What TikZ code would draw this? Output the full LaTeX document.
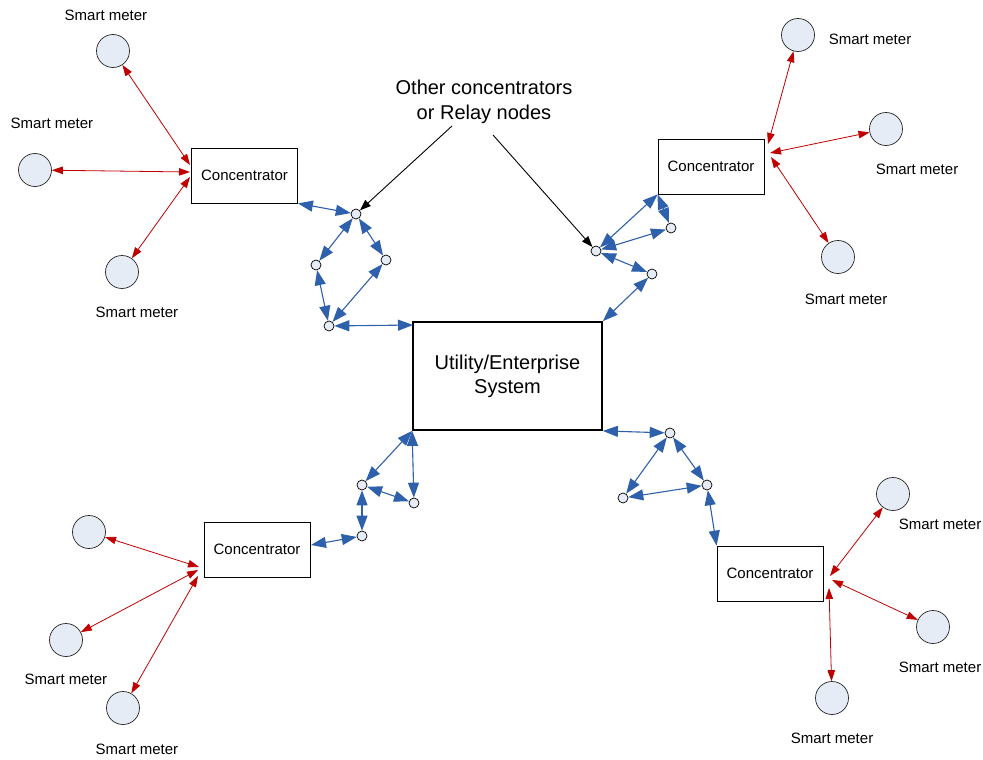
\documentclass[tikz,border=0pt]{standalone}
\usepackage{fontspec}
\setmainfont{Liberation Sans}
\usetikzlibrary{arrows.meta}
\definecolor{linkblue}{RGB}{46,96,172}
\definecolor{linkred}{RGB}{192,0,0}
\definecolor{meterfill}{RGB}{230,236,246}

\begin{document}
\begin{tikzpicture}[x=1pt,y=-1pt,
  conc/.style={draw=black,line width=0.8pt,minimum width=106pt,minimum height=55pt,inner sep=0pt,font=\fontsize{15}{18}\selectfont},
  core/.style={draw=black,line width=1.8pt,minimum width=189pt,minimum height=108pt,align=center,font=\fontsize{20}{24}\selectfont},
  meter/.style={circle,draw=black!85,line width=0.7pt,fill=meterfill,minimum size=33pt,inner sep=0pt},
  relay/.style={circle,draw=black,line width=0.7pt,fill=meterfill,minimum size=10pt,inner sep=0pt},
  lbl/.style={font=\fontsize{15}{18}\selectfont,inner sep=0pt},
  mesh/.style={linkblue,line width=1.1pt,{Triangle[length=15pt,width=11pt]}-{Triangle[length=15pt,width=11pt]}},
  radio/.style={linkred,line width=0.8pt,{Triangle[length=11pt,width=7.5pt]}-{Triangle[length=11pt,width=7.5pt]}},
  pointer/.style={black,line width=0.9pt,-{Triangle[length=11pt,width=8pt]}}
]
\useasboundingbox (0,0) rectangle (983,760);

% central system and concentrators
\node[core] (core) at (507.5,376) {Utility/Enterprise\\System};
\node[conc] (c1) at (244.5,175.5) {Concentrator};
\node[conc] (c2) at (711,166.5) {Concentrator};
\node[conc] (c3) at (257,549.5) {Concentrator};
\node[conc] (c4) at (770,573.5) {Concentrator};

% relay nodes
\node[relay] (ta) at (356,214) {};
\node[relay] (tb) at (316,265) {};
\node[relay] (tc) at (386,260) {};
\node[relay] (td) at (329,326) {};

\node[relay] (ra) at (596,251) {};
\node[relay] (rb) at (671,228) {};
\node[relay] (rc) at (652,274) {};

\node[relay] (la) at (362,485) {};
\node[relay] (lb) at (414,503) {};
\node[relay] (lc) at (362,536) {};

\node[relay] (ba) at (670,433) {};
\node[relay] (bb) at (623,498) {};
\node[relay] (bc) at (707,485) {};

% smart meters
\node[meter] (m1) at (113,51) {};
\node[meter] (m2) at (35,170) {};
\node[meter] (m3) at (122,272) {};
\node[meter] (m4) at (798,35) {};
\node[meter] (m5) at (886,129) {};
\node[meter] (m6) at (838,257) {};
\node[meter] (m7) at (89,532) {};
\node[meter] (m8) at (66,640) {};
\node[meter] (m9) at (123,708) {};
\node[meter] (m10) at (893,494) {};
\node[meter] (m11) at (933,627) {};
\node[meter] (m12) at (832,698) {};

% meter labels
\node[lbl] (l1) at (106,15) {Smart meter};
\node[lbl] (l2) at (52,123) {Smart meter};
\node[lbl] (l3) at (137,312) {Smart meter};
\node[lbl] (l4) at (870,39) {Smart meter};
\node[lbl] (l5) at (917,169) {Smart meter};
\node[lbl] (l6) at (846,299) {Smart meter};
\node[lbl] (l8) at (66,679) {Smart meter};
\node[lbl] (l9) at (137,749) {Smart meter};
\node[lbl] (l10) at (940,524) {Smart meter};
\node[lbl] (l11) at (940,667) {Smart meter};
\node[lbl] (l12) at (832,738) {Smart meter};

% callout
\node[align=center,inner sep=0pt,font=\fontsize{20}{25}\selectfont] (note) at (484,102) {Other concentrators\\or Relay nodes};
\coordinate (noteL) at (452,126);
\coordinate (noteR) at (493,135);
\draw[pointer] (noteL) -- (ta);
\draw[pointer] (noteR) -- (ra);

% wireless links at each concentrator
\coordinate (h1a) at (190,165);
\coordinate (h1b) at (190,172);
\coordinate (h1c) at (190,177);
\draw[radio] (m1) -- (h1a);
\draw[radio] (m2) -- (h1b);
\draw[radio] (m3) -- (h1c);

\coordinate (h2a) at (768,144);
\coordinate (h2b) at (770,153);
\coordinate (h2c) at (771,157);
\draw[radio] (m4) -- (h2a);
\draw[radio] (m5) -- (h2b);
\draw[radio] (m6) -- (h2c);

\coordinate (h3a) at (199,567);
\coordinate (h3b) at (198,570);
\coordinate (h3c) at (198,576);
\draw[radio] (m7) -- (h3a);
\draw[radio] (m8) -- (h3b);
\draw[radio] (m9) -- (h3c);

\coordinate (h4a) at (830,576);
\coordinate (h4b) at (832,580);
\coordinate (h4c) at (829,588);
\draw[radio] (m10) -- (h4a);
\draw[radio] (m11) -- (h4b);
\draw[radio] (m12) -- (h4c);

% mesh links between concentrators and the system
\coordinate (coreTL) at (413,325);
\draw[mesh] (c1.south east) -- (ta);
\draw[mesh] (ta) -- (tb);
\draw[mesh] (ta) -- (tc);
\draw[mesh] (tb) -- (td);
\draw[mesh] (tc) -- (td);
\draw[mesh] (td) -- (coreTL);

\draw[mesh] (c2.south west) -- (ra);
\draw[mesh] (c2.south west) -- (rb);
\draw[mesh] (rb) -- (ra);
\draw[mesh] (ra) -- (rc);
\draw[mesh] (rc) -- (core.north east);

\coordinate (c3R) at (311,545);
\draw[mesh] (core.south west) -- (la);
\draw[mesh] (core.south west) -- (lb);
\draw[mesh] (la) -- (lb);
\draw[mesh] (la) -- (lc);
\draw[mesh] (lc) -- (c3R);

\draw[mesh] (core.south east) -- (ba);
\draw[mesh] (ba) -- (bb);
\draw[mesh] (ba) -- (bc);
\draw[mesh] (bb) -- (bc);
\draw[mesh] (bc) -- (c4.north west);
\end{tikzpicture}
\end{document}
